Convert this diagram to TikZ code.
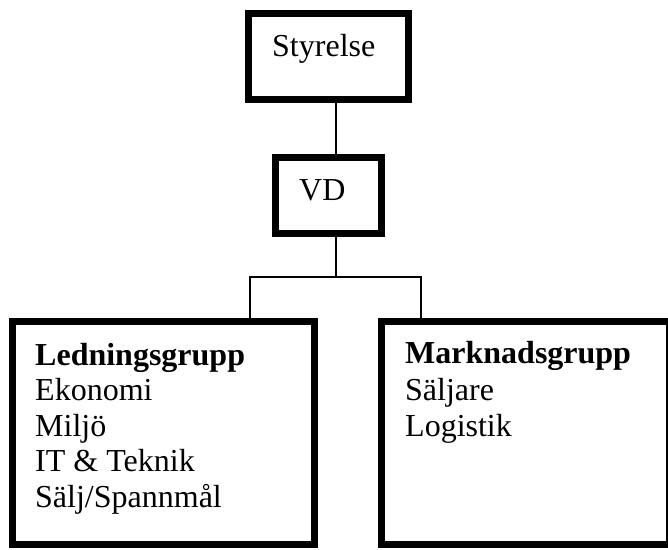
\documentclass[tikz,border=0pt]{standalone}
\usepackage{fontspec}
\setmainfont{Liberation Serif}
\begin{document}
\begin{tikzpicture}[x=1pt,y=-1pt,
  orgbox/.style={draw=black, line width=7pt, fill=white, inner sep=0pt},
  conn/.style={draw=black, line width=1.6pt},
  txt/.style={anchor=base west, inner sep=0pt, font=\fontsize{32}{36}\selectfont}]
\useasboundingbox (0,0) rectangle (668,549);
\clip (0,0) rectangle (668,549);
% boxes
\node[orgbox, minimum width=160pt, minimum height=86pt] (sty) at (328.5,56.5) {};
\node[orgbox, minimum width=106pt, minimum height=76pt] (vd) at (328,195.3) {};
\node[orgbox, minimum width=301.7pt, minimum height=223pt] (led) at (163.65,433.1) {};
\node[orgbox, minimum width=288pt, minimum height=223pt] (mark) at (525.6,433.1) {};
% texts
\node[txt] (tsty) at (272,56) {Styrelse};
\node[txt] (tvd) at (299,200) {VD};
\node[txt] (l1) at (35,365) {\textbf{Ledningsgrupp}};
\node[txt] (l2) at (35,400.5) {Ekonomi};
\node[txt] (l3) at (35,436) {Miljö};
\node[txt] (l4) at (35,471.8) {IT \& Teknik};
\node[txt] (l5) at (35,507.8) {Sälj/Spannmål};
\node[txt] (m1) at (405,363) {\textbf{Marknadsgrupp}};
\node[txt] (m2) at (405,400.5) {Säljare};
\node[txt] (m3) at (405,436) {Logistik};
% connectors
\coordinate (j1) at (335.7,0);
\coordinate (jl) at (250,276.7);
\coordinate (jr) at (420.7,276.7);
\draw[conn] (sty.south -| j1) -- (vd.north -| j1);
\draw[conn] (vd.south -| j1) -- (j1 |- jl);
\draw[conn] (led.north -| jl) -- (jl) -- (jr) -- (mark.north -| jr);
\end{tikzpicture}
\end{document}
